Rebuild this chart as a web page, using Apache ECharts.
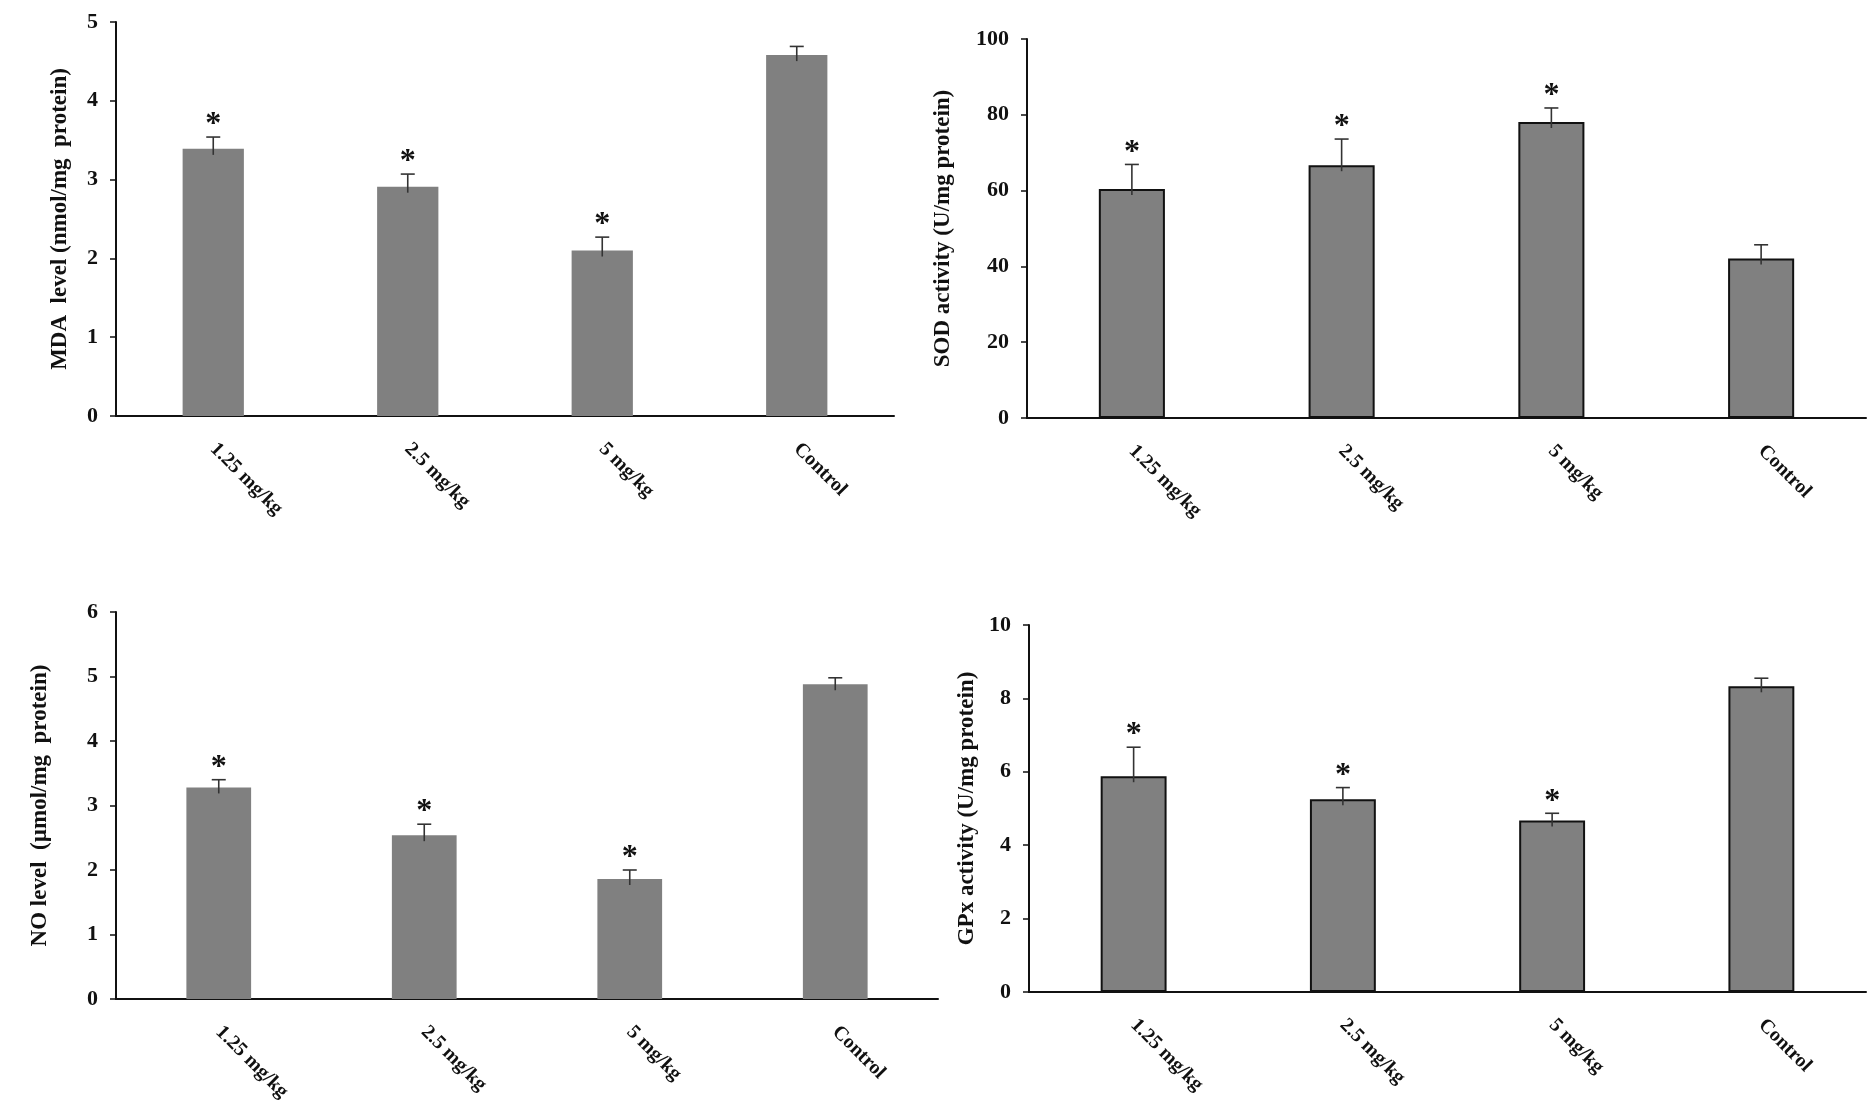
<!DOCTYPE html>
<html>
<head>
<meta charset="utf-8">
<title>Oxidative stress markers</title>
<script src="https://cdn.jsdelivr.net/npm/echarts@6/dist/echarts.min.js"></script>
<style>
    html, body {margin: 0; padding: 0; background: #fff;}
    #main {width: 1871px; height: 1110px;}
</style>
</head>
<body>
<div id="main"></div>
<script>
// groups on the x axis
var categories = ['1.25 mg/kg', '2.5 mg/kg', '5 mg/kg', 'Control'];

// MDA level (nmol/mg protein)
var mdaMean = [3.39, 2.91, 2.10, 4.58];
var mdaErr = [0.15, 0.16, 0.17, 0.11];
var mdaStar = [1, 1, 1, 0];
var mdaAxis = [0, 5, 1];

// SOD activity (U/mg protein)
var sodMean = [60.4, 66.7, 78.1, 42.1];
var sodErr = [6.5, 6.9, 3.7, 3.6];
var sodStar = [1, 1, 1, 0];
var sodAxis = [0, 100, 20];

// NO level (umol/mg protein)
var noMean = [3.28, 2.54, 1.86, 4.88];
var noErr = [0.12, 0.17, 0.14, 0.10];
var noStar = [1, 1, 1, 0];
var noAxis = [0, 6, 1];

// GPx activity (U/mg protein)
var gpxMean = [5.88, 5.25, 4.67, 8.33];
var gpxErr = [0.79, 0.32, 0.20, 0.22];
var gpxStar = [1, 1, 1, 0];
var gpxAxis = [0, 10, 2];

var FONT = '"Liberation Serif", "Times New Roman", serif';
var INK = '#111';

var panels = [
    {name: 'MDA  level (nmol/mg  protein)', mean: mdaMean, err: mdaErr, star: mdaStar, axis: mdaAxis,
        grid: {left: 116, top: 22, width: 778, height: 394}, border: false, nameGap: 44},
    {name: 'SOD activity (U/mg protein)', mean: sodMean, err: sodErr, star: sodStar, axis: sodAxis,
        grid: {left: 1027, top: 39, width: 839, height: 379}, border: true, nameGap: 72},
    {name: 'NO level  (\u00b5mol/mg  protein)', mean: noMean, err: noErr, star: noStar, axis: noAxis,
        grid: {left: 116, top: 612, width: 822, height: 387}, border: false, nameGap: 64},
    {name: 'GPx activity (U/mg protein)', mean: gpxMean, err: gpxErr, star: gpxStar, axis: gpxAxis,
        grid: {left: 1029, top: 625, width: 837, height: 367}, border: true, nameGap: 50}
];

//误差线 + 显著性星号
function errorBarItem(params, api) {
    var mean = api.value(1), err = api.value(2), star = api.value(3);
    var base = api.coord([api.value(0), mean]);
    var top = api.coord([api.value(0), mean + err]);
    var children = [
        {type: 'line', shape: {x1: base[0], y1: base[1] + 6, x2: top[0], y2: top[1]},
            style: {stroke: '#333', lineWidth: 1.6}},
        {type: 'line', shape: {x1: top[0] - 7, y1: top[1], x2: top[0] + 7, y2: top[1]},
            style: {stroke: '#333', lineWidth: 1.6}}
    ];
    if (star) {
        children.push({
            type: 'text',
            style: {
                text: '*', x: top[0], y: top[1] - 12,
                align: 'center', verticalAlign: 'middle',
                fontSize: 32, fontWeight: 'bold', fontFamily: FONT, fill: INK
            }
        });
    }
    return {type: 'group', children: children};
}

var option = {
    animation: false,
    backgroundColor: '#fff',
    grid: [], xAxis: [], yAxis: [], series: []
};

for (var p = 0; p < panels.length; p++) {
    var cfg = panels[p];
    option.grid.push(cfg.grid);
    option.xAxis.push({
        type: 'category', gridIndex: p, data: categories,
        axisLine: {lineStyle: {color: INK, width: 2}},
        axisTick: {show: false},
        axisLabel: {
            interval: 0, rotate: -45, margin: 30, color: INK,
            fontFamily: FONT, fontWeight: 'bold', fontSize: 20
        }
    });
    option.yAxis.push({
        type: 'value', gridIndex: p,
        min: cfg.axis[0], max: cfg.axis[1], interval: cfg.axis[2],
        name: cfg.name, nameLocation: 'middle', nameGap: cfg.nameGap,
        nameTextStyle: {color: INK, fontFamily: FONT, fontWeight: 'bold', fontSize: 23},
        axisLine: {show: true, lineStyle: {color: INK, width: 2}},
        axisTick: {show: true, inside: false, length: 6, lineStyle: {color: INK, width: 1.5}},
        splitLine: {show: false},
        axisLabel: {margin: 18, color: INK, fontFamily: FONT, fontWeight: 'bold', fontSize: 22}
    });
    option.series.push({
        type: 'bar', xAxisIndex: p, yAxisIndex: p,
        data: cfg.mean, barWidth: '31.5%',
        itemStyle: {
            color: '#808080',
            borderColor: cfg.border ? '#111' : '#808080',
            borderWidth: cfg.border ? 2 : 0
        }
    });
    var errData = [];
    for (var i = 0; i < cfg.mean.length; i++) {
        errData.push([i, cfg.mean[i], cfg.err[i], cfg.star[i]]);
    }
    option.series.push({
        type: 'custom', xAxisIndex: p, yAxisIndex: p,
        renderItem: errorBarItem, data: errData, z: 5, clip: false
    });
}

var chart = echarts.init(document.getElementById('main'));
chart.setOption(option);
</script>
</body>
</html>
